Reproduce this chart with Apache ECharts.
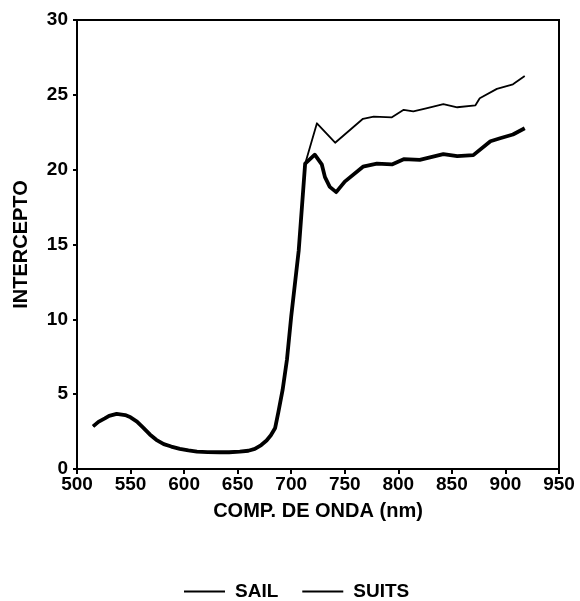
<!DOCTYPE html>
<html>
<head>
<meta charset="utf-8">
<script src="https://cdn.jsdelivr.net/npm/echarts@6/dist/echarts.min.js"></script>
<style>
html,body{margin:0;padding:0;background:#fff;}
#c{width:580px;height:601px;}
</style>
</head>
<body>
<div id="c"></div>
<script>
// Wavelengths (nm) and intercept values
var sailWave = [515, 520, 526, 530, 537, 545, 550, 556, 562, 568, 574, 581, 588, 596, 604, 612, 622, 633, 642, 652, 660, 666, 672, 677, 681, 685, 688, 692, 696, 700, 707, 713, 722, 728.5, 731.5, 736, 742, 750, 767, 780, 794, 805, 820, 842, 855, 870, 886, 895, 907, 918];
var sailVals = [2.85, 3.15, 3.38, 3.55, 3.68, 3.6, 3.45, 3.17, 2.75, 2.31, 1.95, 1.66, 1.5, 1.34, 1.24, 1.16, 1.13, 1.12, 1.12, 1.16, 1.22, 1.34, 1.6, 1.9, 2.25, 2.74, 3.8, 5.3, 7.3, 10.2, 14.6, 20.4, 21.0, 20.36, 19.5, 18.85, 18.5, 19.2, 20.2, 20.4, 20.35, 20.7, 20.66, 21.04, 20.9, 20.97, 21.9, 22.1, 22.35, 22.77];

var suitsWave = [515, 520, 526, 530, 537, 545, 550, 556, 562, 568, 574, 581, 588, 596, 604, 612, 622, 633, 642, 652, 660, 666, 672, 677, 681, 685, 688, 692, 696, 700, 707, 713, 724, 741, 767, 777, 794, 805, 814, 826, 842, 855, 872, 876, 892, 907, 918];
var suitsVals = [2.85, 3.15, 3.38, 3.55, 3.68, 3.6, 3.45, 3.17, 2.75, 2.31, 1.95, 1.66, 1.5, 1.34, 1.24, 1.16, 1.13, 1.12, 1.12, 1.16, 1.22, 1.34, 1.6, 1.9, 2.25, 2.74, 3.8, 5.3, 7.3, 10.2, 14.6, 20.4, 23.1, 21.8, 23.4, 23.55, 23.5, 24.0, 23.9, 24.1, 24.38, 24.17, 24.3, 24.77, 25.4, 25.7, 26.26];

var seriesNames = ['SAIL', 'SUITS'];
var xTitle = 'COMP. DE ONDA (nm)';
var yTitle = 'INTERCEPTO';

function pairs(xs, ys){ return xs.map(function(x,i){ return [x, ys[i]]; }); }

var font = 'Liberation Sans, Arial, sans-serif';
var chart = echarts.init(document.getElementById('c'), null, {renderer:'canvas'});
chart.setOption({
  animation:false,
  backgroundColor:'#fff',
  grid:{left:77, right:21, top:20, bottom:132, show:true, borderColor:'#000', borderWidth:2, backgroundColor:'transparent'},
  legend:{
    data:[{name:seriesNames[0], icon:'rect'},{name:seriesNames[1], icon:'rect'}],
    left:179, top:577, itemWidth:41, itemHeight:2, itemGap:24,
    textStyle:{fontFamily:font, fontWeight:'bold', fontSize:19, color:'#000', padding:[0,0,0,5]}
  },
  xAxis:{
    type:'value', min:500, max:950, interval:50,
    name:xTitle, nameLocation:'middle', nameGap:32,
    nameTextStyle:{fontFamily:font, fontWeight:'bold', fontSize:20, color:'#000'},
    axisLine:{show:true, lineStyle:{color:'#000', width:2}},
    axisTick:{show:true, length:5, lineStyle:{color:'#000', width:2}},
    axisLabel:{fontFamily:font, fontWeight:'bold', fontSize:19, color:'#000', margin:6},
    splitLine:{show:false}
  },
  yAxis:{
    type:'value', min:0, max:30, interval:5,
    name:yTitle, nameLocation:'middle', nameGap:46, nameRotate:90,
    nameTextStyle:{fontFamily:font, fontWeight:'bold', fontSize:20, color:'#000'},
    axisLine:{show:true, lineStyle:{color:'#000', width:2}},
    axisTick:{show:true, length:4, lineStyle:{color:'#000', width:2}},
    axisLabel:{fontFamily:font, fontWeight:'bold', fontSize:19, color:'#000', margin:9},
    splitLine:{show:false}
  },
  series:[
    {name:seriesNames[0], type:'line', data:pairs(sailWave, sailVals), showSymbol:false, symbol:'none', smooth:false,
     lineStyle:{color:'#000', width:3.8, join:'round'}, itemStyle:{color:'#000'}, z:3},
    {name:seriesNames[1], type:'line', data:pairs(suitsWave, suitsVals), showSymbol:false, symbol:'none', smooth:false,
     lineStyle:{color:'#000', width:1.8, join:'round'}, itemStyle:{color:'#000'}, z:2}
  ]
});
</script>
</body>
</html>
